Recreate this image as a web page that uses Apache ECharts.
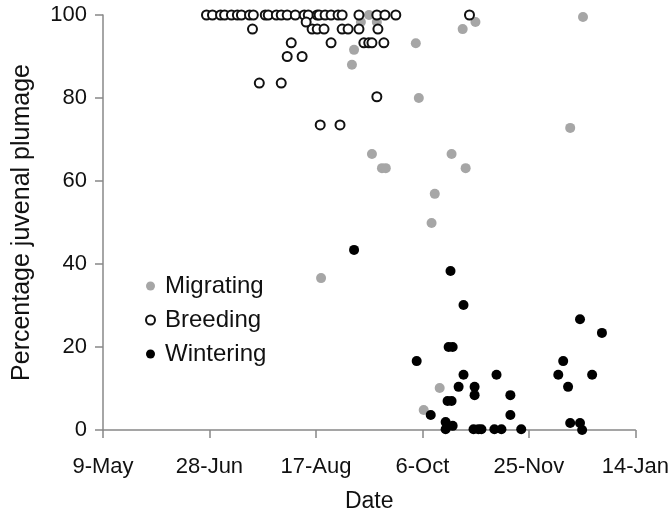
<!DOCTYPE html>
<html><head><meta charset="utf-8">
<script src="https://cdn.jsdelivr.net/npm/echarts@6/dist/echarts.min.js"></script>
<style>html,body{margin:0;padding:0;background:#fff}#c{width:672px;height:518px}</style>
</head><body><div id="c"></div>
<script>
// x values: days after 9-May
const tickValues = [0, 50, 100, 150, 200, 250];
const tickLabels = ["9-May", "28-Jun", "17-Aug", "6-Oct", "25-Nov", "14-Jan"];
const seriesNames = ["Migrating", "Breeding", "Wintering"];

const migrating = [
  [124.9, 100], [121.1, 98.3], [128.6, 98.3], [117.9, 91.6], [116.9, 88],
  [126.3, 66.5], [131, 63.1], [132.8, 63.1], [102.4, 36.6], [146.9, 93.2],
  [148.3, 80], [168.9, 96.6], [174.9, 98.3], [225.4, 99.5], [219.4, 72.8],
  [163.7, 66.5], [170.3, 63.1], [155.8, 56.9], [154.3, 49.9], [158.1, 10.1],
  [150.6, 4.8]
];

const breeding = [
  [48.6, 100], [51.4, 100], [55.2, 100], [57.1, 100], [60.3, 100], [63.1, 100],
  [65.0, 100], [68.8, 100], [70.6, 100], [76.2, 100], [77.6, 100], [81.4, 100],
  [83.7, 100], [86.5, 100], [90.3, 100], [94.5, 100], [96.4, 100], [100.6, 100],
  [101.5, 100], [100.9, 100.4], [104.3, 100], [107.1, 100], [110.4, 100], [112.3, 100],
  [120.2, 100], [128.6, 100], [132.4, 100], [137.5, 100], [172.1, 100],
  [70.2, 96.6], [98.2, 96.6], [100.6, 96.6], [103.8, 96.6], [112.3, 96.6],
  [115.1, 96.6], [120.2, 96.6], [129.1, 96.6], [95.4, 98.3],
  [88.4, 93.3], [107.1, 93.3], [122.5, 93.3], [124.8, 93.3], [126.3, 93.3], [131.9, 93.3],
  [86.5, 90], [93.5, 90], [73.4, 83.6], [83.7, 83.6], [128.6, 80.3],
  [102.0, 73.5], [111.3, 73.5]
];

const wintering = [
  [117.9, 43.4], [163.2, 38.3], [169.3, 30.1], [162.3, 20], [164.2, 20],
  [147.3, 16.6], [153.9, 3.6], [169.3, 13.3], [167, 10.4], [174.5, 10.4],
  [174.5, 8.4], [161.8, 7], [163.7, 7], [184.8, 13.3], [191.3, 8.4],
  [191.3, 3.6], [160.9, 1.9], [164.2, 1], [160.9, 0.2], [174, 0.2],
  [176.3, 0.2], [177.7, 0.2], [183.8, 0.2], [187.1, 0.2], [196.4, 0.2],
  [224, 26.7], [234.3, 23.4], [216.1, 16.6], [213.8, 13.3], [229.7, 13.3],
  [218.4, 10.4], [219.4, 1.7], [224, 1.7], [225, 0]
];

const FONT = "Liberation Sans, Arial, sans-serif";
const TXT = '#111';
const chart = echarts.init(document.getElementById('c'), null, {renderer: 'canvas'});
chart.setOption({
  animation: false,
  backgroundColor: '#fff',
  grid: {left: 103, right: 34.5, top: 15, bottom: 88, containLabel: false},
  legend: {
    orient: 'vertical', left: 145, top: 274, itemGap: 10,
    itemWidth: 9, itemHeight: 9, padding: 0,
    textStyle: {fontFamily: FONT, fontSize: 24, lineHeight: 24, color: TXT, padding: [0, 0, 0, 5]},
    data: [
      {name: seriesNames[0], icon: 'circle'},
      {name: seriesNames[1], icon: 'emptyCircle'},
      {name: seriesNames[2], icon: 'circle'}
    ]
  },
  xAxis: {
    type: 'value', min: tickValues[0], max: tickValues[tickValues.length - 1], interval: 50,
    name: 'Date', nameLocation: 'middle', nameGap: 60,
    nameTextStyle: {fontFamily: FONT, fontSize: 23, color: TXT},
    axisLine: {lineStyle: {color: '#888', width: 1.5}},
    axisTick: {show: true, length: 8, lineStyle: {color: '#888', width: 1.5}},
    splitLine: {show: false},
    axisLabel: {
      fontFamily: FONT, fontSize: 22, color: TXT, margin: 26,
      formatter: v => { const i = tickValues.indexOf(v); return i >= 0 ? tickLabels[i] : ''; }
    }
  },
  yAxis: {
    type: 'value', min: 0, max: 100, interval: 20,
    name: 'Percentage juvenal plumage', nameLocation: 'middle', nameGap: 68,
    nameTextStyle: {fontFamily: FONT, fontSize: 25, color: TXT},
    axisLine: {show: true, lineStyle: {color: '#888', width: 1.5}},
    axisTick: {show: true, length: 8, lineStyle: {color: '#888', width: 1.5}},
    splitLine: {show: false},
    axisLabel: {fontFamily: FONT, fontSize: 22, color: TXT, margin: 16}
  },
  series: [
    {name: seriesNames[0], type: 'scatter', data: migrating, symbol: 'circle', symbolSize: 10,
     itemStyle: {color: '#a6a6a6', opacity: 1}, z: 2},
    {name: seriesNames[1], type: 'scatter', data: breeding, symbol: 'emptyCircle', symbolSize: 9,
     itemStyle: {color: '#111', borderColor: '#111', borderWidth: 1.6, opacity: 1}, z: 3},
    {name: seriesNames[2], type: 'scatter', data: wintering, symbol: 'circle', symbolSize: 10,
     itemStyle: {color: '#000', opacity: 1}, z: 4}
  ]
});
</script></body></html>
